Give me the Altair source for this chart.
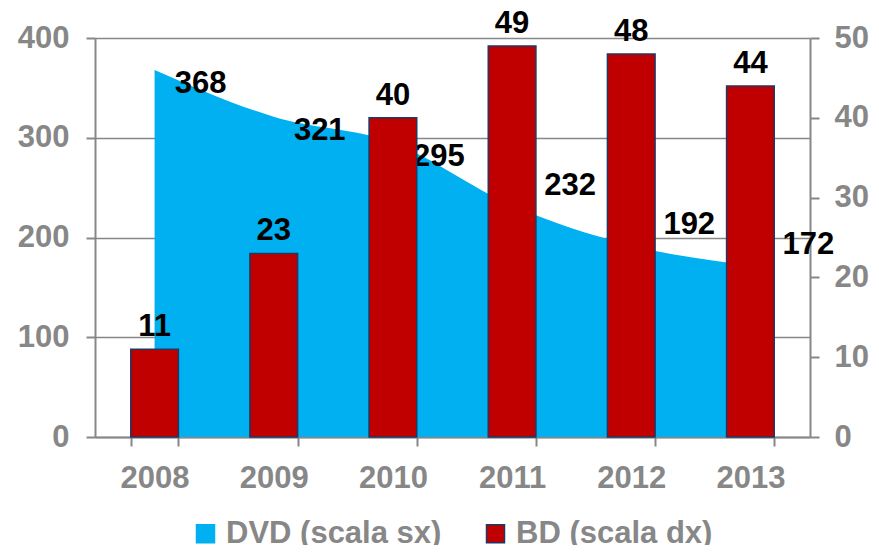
import altair as alt
import pandas as pd

years = ["2008", "2009", "2010", "2011", "2012", "2013"]
dvd = [368, 321, 295, 232, 192, 172]
bd = [11, 23, 40, 49, 48, 44]
series_names = ["DVD (scala sx)", "BD (scala dx)"]

rows = []
for y, v in zip(years, dvd):
    rows.append({"year": y, "series": series_names[0], "value": v})
for y, v in zip(years, bd):
    rows.append({"year": y, "series": series_names[1], "value": v})
df = pd.DataFrame(rows)

GREY = "#878787"
FONT = "Liberation Sans"
FS = 31

color_scale = alt.Scale(domain=series_names, range=["#00B0F0", "#C00000"])
stroke_scale = alt.Scale(domain=series_names, range=["#00B0F0", "#1F3864"])

legend = alt.Legend(
    title=None, orient="none", direction="horizontal", legendX=95, legendY=480,
    symbolType="square", symbolSize=324, symbolStrokeWidth=1.5,
    labelFontSize=FS, labelFont=FONT, labelFontWeight="bold", labelColor=GREY,
    columnPadding=38, labelOffset=5, labelLimit=500,
)

x_enc = alt.X(
    "year:N", sort=years,
    scale=alt.Scale(paddingInner=0.6, paddingOuter=0.3),
    axis=alt.Axis(
        title=None, labelAngle=0, tickBand="extent", tickSize=9, tickWidth=2,
        tickColor=GREY, domainColor=GREY, domainWidth=2, grid=False,
        labelFont=FONT, labelFontSize=FS, labelFontWeight="bold", labelColor=GREY,
        labelPadding=17,
    ),
)

left_scale = alt.Scale(domain=[0, 400], nice=False)
right_scale = alt.Scale(domain=[0, 50], nice=False)

left_axis = alt.Axis(
    title=None, values=[0, 100, 200, 300, 400], grid=True, gridColor=GREY,
    gridWidth=1.5, tickSize=9, tickWidth=2, tickColor=GREY, domainColor=GREY,
    domainWidth=2, labelFont=FONT, labelFontSize=FS, labelFontWeight="bold",
    labelColor=GREY, labelPadding=17,
)
right_axis = alt.Axis(
    title=None, orient="right", values=[0, 10, 20, 30, 40, 50], grid=False,
    tickSize=9, tickWidth=2, tickColor=GREY, domainColor=GREY, domainWidth=2,
    labelFont=FONT, labelFontSize=FS, labelFontWeight="bold", labelColor=GREY,
    labelPadding=15,
)

is_dvd = alt.datum.series == series_names[0]
is_bd = alt.datum.series == series_names[1]

area = alt.Chart(df).transform_filter(is_dvd).mark_area(
    interpolate="monotone", strokeWidth=0
).encode(
    x=x_enc,
    y=alt.Y("value:Q", scale=left_scale, axis=left_axis),
    color=alt.Color("series:N", scale=color_scale, legend=legend),
    stroke=alt.Stroke("series:N", scale=stroke_scale, legend=legend),
)

text_style = dict(font=FONT, fontSize=FS, fontWeight="bold", color="black")

dvd_text_a = alt.Chart(df).transform_filter(is_dvd).transform_filter(
    alt.FieldOneOfPredicate(field="year", oneOf=years[:3])
).mark_text(dx=46, dy=14, **text_style).encode(
    x=alt.X("year:N", sort=years),
    y=alt.Y("value:Q", scale=left_scale, axis=left_axis),
    text="value:Q",
)
dvd_text_b = alt.Chart(df).transform_filter(is_dvd).transform_filter(
    alt.FieldOneOfPredicate(field="year", oneOf=years[3:])
).mark_text(dx=58, dy=-20, **text_style).encode(
    x=alt.X("year:N", sort=years),
    y=alt.Y("value:Q", scale=left_scale, axis=left_axis),
    text="value:Q",
)

bars = alt.Chart(df).transform_filter(is_bd).mark_bar(strokeWidth=1.5).encode(
    x=alt.X("year:N", sort=years),
    y=alt.Y("value:Q", scale=right_scale, axis=right_axis),
    color=alt.Color("series:N", scale=color_scale, legend=legend),
    stroke=alt.Stroke("series:N", scale=stroke_scale, legend=legend),
)

bd_text = alt.Chart(df).transform_filter(is_bd).mark_text(dy=-22, **text_style).encode(
    x=alt.X("year:N", sort=years),
    y=alt.Y("value:Q", scale=right_scale, axis=right_axis),
    text="value:Q",
)

left = alt.layer(area, dvd_text_a, dvd_text_b)
right = alt.layer(bars, bd_text)

chart = alt.layer(left, right).resolve_scale(y="independent").properties(
    width=715, height=399,
    autosize=alt.AutoSizeParams(type="none"),
    padding={"left": 87, "top": 30, "right": 61, "bottom": 108},
).configure_view(stroke=None).configure(background="white")

chart.save("out.html", embed_options={"renderer": "svg", "actions": False})
